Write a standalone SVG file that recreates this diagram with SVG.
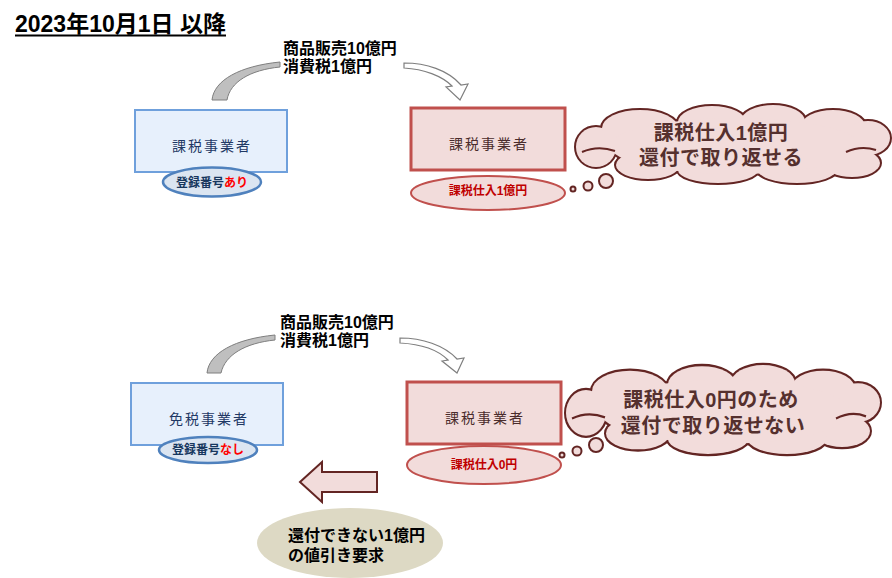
<svg xmlns="http://www.w3.org/2000/svg" xmlns:xlink="http://www.w3.org/1999/xlink" width="892" height="578" viewBox="0 0 892 578">
<style>
text{font-family:'Liberation Sans','Noto Sans CJK JP',sans-serif}
.bold{font-weight:bold}
.lbl{font-size:16px;font-weight:bold;fill:#000}
.boxB{fill:#e7f0fc;stroke:#6fa0dc;stroke-width:2}
.boxR{fill:#f2dcdb;stroke:#c0504d;stroke-width:3}
.ellB{fill:#dbe5f1;stroke:#4f81bd;stroke-width:2.5}
.ellR{fill:#f2dcdb;stroke:#c0504d;stroke-width:2}
.boxTxtB{font-size:14px;letter-spacing:2px;fill:#1f3864;text-anchor:middle}
.boxTxtR{font-size:14px;letter-spacing:2px;fill:#4a2c2c;text-anchor:middle}
.ellTxtB{font-size:12px;font-weight:bold;fill:#17375e;text-anchor:middle}
.ellTxtR{font-size:12px;font-weight:bold;fill:#c00000;text-anchor:middle}
.cloudTxt{font-size:20px;font-weight:bold;fill:#55302e;text-anchor:middle;letter-spacing:0.5px}
.dot{fill:#f2dcdb;stroke:#632523;stroke-width:2}
.curl{fill:none;stroke:#632523;stroke-width:2}
.arrG{fill:#bfbfbf;stroke:#7f7f7f;stroke-width:1}
.arrW{fill:#fff;stroke:#7f7f7f;stroke-width:1.2}
</style>
<defs>
<g id="cloudE">
<ellipse cx="596" cy="147" rx="20" ry="20"/>
<ellipse cx="640" cy="128" rx="38" ry="18"/>
<ellipse cx="712" cy="122" rx="34" ry="16"/>
<ellipse cx="773" cy="121" rx="32" ry="16"/>
<ellipse cx="833" cy="126" rx="32" ry="16"/>
<ellipse cx="868" cy="138" rx="22" ry="17"/>
<ellipse cx="852" cy="163" rx="28" ry="14"/>
<ellipse cx="797" cy="169" rx="40" ry="14"/>
<ellipse cx="718" cy="170" rx="40" ry="13"/>
<ellipse cx="648" cy="165" rx="32" ry="14"/>
<ellipse cx="735" cy="146" rx="125" ry="28"/>
</g>
<g id="cloud">
<use xlink:href="#cloudE" href="#cloudE" fill="#f2dcdb" stroke="#632523" stroke-width="4"/>
<use xlink:href="#cloudE" href="#cloudE" fill="#f2dcdb" stroke="none"/>
<path class="curl" d="M582,152 Q598,145 615,151"/>
<path class="curl" d="M846,152 Q861,145 876,150"/>
</g>
</defs>

<g id="title">
<text x="15" y="32" class="bold" font-size="23" fill="#000">2023年10月1日 以降</text>
<line x1="15" y1="35.5" x2="226" y2="35.5" stroke="#000" stroke-width="2"/>
</g>

<g id="connectors">
<path id="arrow-top-left" class="arrG" d="M212,100 C214,80 240,66 280,62 L280,67 C250,70 230,82 227,100 Z"/>
<path id="arrow-top-right" class="arrW" d="M404,63 C426,63 448,70 461,85 L468,84 L460,100 L446,87 L452,86 C442,76 424,69 404,68 Z"/>
<path id="arrow-bottom-left" class="arrG" d="M207,373 C209,353 235,339 275,335 L275,340 C245,343 225,355 221,373 Z"/>
<path id="arrow-bottom-right" class="arrW" d="M400,338 C422,338 444,345 457,359 L464,358 L457,373 L442,361 L448,360 C438,350 420,344 400,343 Z"/>
<polygon id="block-arrow" points="300,482 322,462 322,472 377,472 377,492 322,492 322,502" fill="#f2dcdb" stroke="#632523" stroke-width="2"/>
</g>

<g id="label-top">
<text class="lbl" x="283" y="54">商品販売10億円</text>
<text class="lbl" x="283" y="72">消費税1億円</text>
</g>
<g id="label-bottom">
<text class="lbl" x="280" y="328">商品販売10億円</text>
<text class="lbl" x="280" y="346">消費税1億円</text>
</g>

<g id="node-seller-top">
<rect class="boxB" x="135" y="110" width="152" height="62"/>
<text class="boxTxtB" x="212" y="151">課税事業者</text>
<ellipse class="ellB" cx="212" cy="182" rx="49" ry="14.5"/>
<text class="ellTxtB" x="212" y="187">登録番号<tspan fill="#ff0000">あり</tspan></text>
</g>

<g id="node-buyer-top">
<rect class="boxR" x="411" y="108" width="154" height="62"/>
<text class="boxTxtR" x="489" y="149">課税事業者</text>
<ellipse class="ellR" cx="488" cy="193" rx="77" ry="17"/>
<text class="ellTxtR" x="488" y="195">課税仕入1億円</text>
</g>

<g id="cloud-top">
<circle class="dot" cx="573" cy="189" r="2.5"/>
<circle class="dot" cx="588" cy="186" r="4.5"/>
<circle class="dot" cx="606" cy="181" r="7"/>
<use xlink:href="#cloud" href="#cloud"/>
<text class="cloudTxt" x="721" y="140">課税仕入1億円</text>
<text class="cloudTxt" x="721" y="165">還付で取り返せる</text>
</g>

<g id="node-seller-bottom">
<rect class="boxB" x="131" y="383" width="152" height="62"/>
<text class="boxTxtB" x="209" y="424">免税事業者</text>
<ellipse class="ellB" cx="208" cy="450" rx="49" ry="13"/>
<text class="ellTxtB" x="208" y="454">登録番号<tspan fill="#ff0000">なし</tspan></text>
</g>

<g id="node-buyer-bottom">
<rect class="boxR" x="407" y="382" width="154" height="62"/>
<text class="boxTxtR" x="485" y="423">課税事業者</text>
<ellipse class="ellR" cx="484" cy="465" rx="77" ry="19"/>
<text class="ellTxtR" x="484" y="469">課税仕入0円</text>
</g>

<g id="cloud-bottom">
<circle class="dot" cx="562" cy="455" r="2.5"/>
<circle class="dot" cx="577" cy="451" r="4.5"/>
<circle class="dot" cx="596" cy="445" r="7"/>
<g transform="translate(-10,365) scale(1,1.14) translate(0,-105)">
<use xlink:href="#cloud" href="#cloud"/>
</g>
<text class="cloudTxt" x="711" y="407">課税仕入0円のため</text>
<text class="cloudTxt" x="713" y="433">還付で取り返せない</text>
</g>

<g id="node-discount">
<ellipse cx="350" cy="543" rx="93" ry="35" fill="#ddd9c4"/>
<text class="lbl" x="288" y="541">還付できない1億円</text>
<text class="lbl" x="288" y="561">の値引き要求</text>
</g>
</svg>
